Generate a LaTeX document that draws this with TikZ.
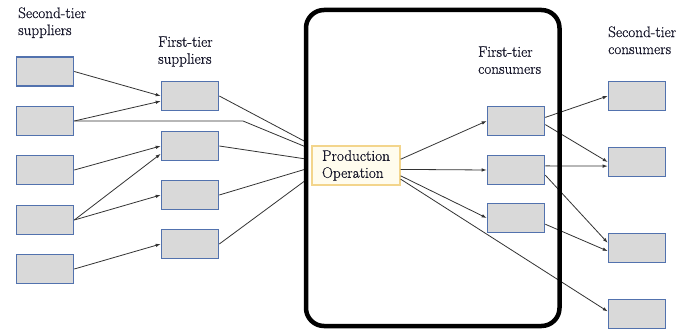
\documentclass[tikz,border=0pt]{standalone}
\usepackage{fontspec}
\newfontfamily\tierfont{Latin Modern Roman}[FakeBold=0.6]
\usetikzlibrary{arrows.meta}

\definecolor{boxfill}{HTML}{D9D9D9}
\definecolor{boxedge}{HTML}{5272AE}
\definecolor{opfill}{HTML}{FFFCEE}
\definecolor{opedge}{HTML}{F3D58C}
\definecolor{linkcol}{HTML}{333333}
\definecolor{inkcol}{HTML}{16162A}

\tikzset{
  tier/.style={draw=boxedge, fill=boxfill, line width=1.6pt,
    minimum width=57pt, minimum height=29pt, inner sep=0pt},
  tiertext/.style={anchor=north west, inner sep=0pt, align=left,
    text=inkcol, font=\tierfont\fontsize{15.2}{17}\selectfont},
  opbox/.style={draw=opedge, fill=opfill, line width=1.3pt,
    minimum width=88pt, minimum height=39pt, align=left,
    text=inkcol, font=\tierfont\fontsize{15.2}{17}\selectfont},
  link/.style={draw=linkcol, line width=0.8pt},
  arr/.style={link, -{Latex[length=5pt,width=3.5pt]}},
}

\begin{document}
\begin{tikzpicture}[x=1pt,y=-1pt]
    \fill[white] (0,0) rectangle (681,329);
    \useasboundingbox (0,0) rectangle (681,329);

    % second-tier suppliers
    \node[tier] (s1) at (45,71.5) {};
    \node[tier] (s2) at (45,121) {};
    \node[tier] (s3) at (45,170) {};
    \node[tier] (s4) at (45,220) {};
    \node[tier] (s5) at (45,269) {};

    % first-tier suppliers
    \node[tier] (f1) at (190,96) {};
    \node[tier] (f2) at (190,146) {};
    \node[tier] (f3) at (190,195) {};
    \node[tier] (f4) at (190,244) {};

    % first-tier consumers
    \node[tier] (c1) at (516,121) {};
    \node[tier] (c2) at (516,170) {};
    \node[tier] (c3) at (516,218) {};

    % second-tier consumers
    \node[tier] (d1) at (637,96) {};
    \node[tier] (d2) at (637,162) {};
    \node[tier] (d3) at (637,248) {};
    \node[tier] (d4) at (637,314) {};

    \node[opbox] (prod) at (356,165.5) {Production\\Operation};

    \node[tiertext] (lss) at (18,7.2) {Second-tier\\suppliers};
    \node[tiertext] (lfs) at (158,36.2) {First-tier\\suppliers};
    \node[tiertext] (lfc) at (478,46.2) {First-tier\\consumers};
    \node[tiertext] (lsc) at (608,26.2) {Second-tier\\consumers};

    % where the supplier lines meet the frame
    \coordinate (bend) at (243,121);
    \coordinate (p1) at (306,142);
    \coordinate (p2) at (306,147);
    \coordinate (p3) at (306,159);
    \coordinate (p4) at (306,169);
    \coordinate (p5) at (306,180);

    \draw[arr] (s1.east) -- (f1.west);
    \draw[arr] (s2.east) -- (f1.190);
    \draw[link] (s2.east) -- (bend) -- (p2);
    \draw[arr] (s3.east) -- (f2.west);
    \draw[arr] (s4.east) -- (f2.195);
    \draw[arr] (s4.east) -- (f3.west);
    \draw[arr] (s5.east) -- (f4.west);

    \draw[link] (f1.east) -- (p1);
    \draw[link] (f2.east) -- (p3);
    \draw[link] (f3.east) -- (p4);
    \draw[link] (f4.east) -- (p5);

    \draw[arr] (prod.8) -- (c1.west);
    \draw[arr] (prod.-5) -- (c2.west);
    \draw[arr] (prod.-13) -- (c3.west);
    \draw[arr] (prod.-17) -- (d4.175);

    \draw[arr] (c1.7) -- (d1.west);
    \draw[arr] (c1.-7) -- (d2.west);
    \draw[arr] (c2.8) -- (d2.188);
    \draw[arr] (c2.-10) -- (d3.170);
    \draw[arr] (c3.-12) -- (d3.186);

    % the firm
    \draw[line width=4.5pt, rounded corners=18pt] (306,10) rectangle (559.5,326);
\end{tikzpicture}
\end{document}
